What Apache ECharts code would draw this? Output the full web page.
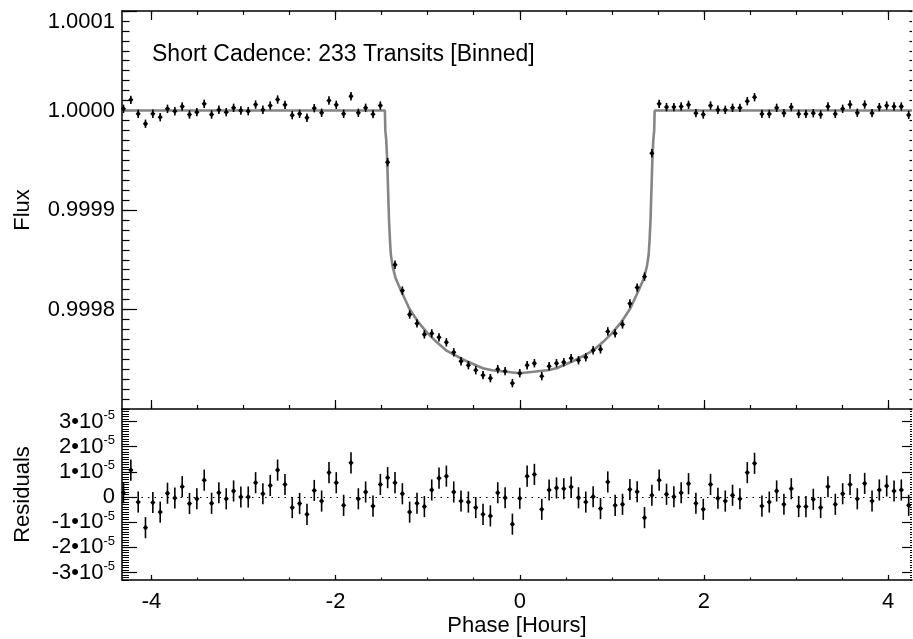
<!DOCTYPE html>
<html><head><meta charset="utf-8">
<script src="https://cdn.jsdelivr.net/npm/echarts@6/dist/echarts.min.js"></script>
<style>html,body{margin:0;padding:0;background:#fff}#c{width:913px;height:639px}</style>
</head><body><div id="c"></div>
<script>
// ---- data ----
const phase = [-4.304,-4.224,-4.144,-4.065,-3.985,-3.905,-3.826,-3.746,-3.666,-3.587,-3.507,-3.427,-3.347,-3.268,-3.188,-3.108,-3.029,-2.949,-2.869,-2.790,-2.710,-2.630,-2.550,-2.471,-2.391,-2.311,-2.232,-2.152,-2.072,-1.993,-1.913,-1.833,-1.753,-1.674,-1.594,-1.514,-1.435,-1.355,-1.275,-1.196,-1.116,-1.036,-0.956,-0.877,-0.797,-0.717,-0.638,-0.558,-0.478,-0.399,-0.319,-0.239,-0.159,-0.080,0.000,0.080,0.159,0.239,0.319,0.399,0.478,0.558,0.638,0.717,0.797,0.877,0.956,1.036,1.116,1.196,1.275,1.355,1.435,1.514,1.594,1.674,1.753,1.833,1.913,1.993,2.072,2.152,2.232,2.311,2.391,2.471,2.550,2.630,2.710,2.790,2.869,2.949,3.029,3.108,3.188,3.268,3.347,3.427,3.507,3.587,3.666,3.746,3.826,3.905,3.985,4.065,4.144,4.224];

const flux = [1.0000017,1.0000107,0.9999967,0.9999867,0.9999967,0.9999933,1.0000017,0.9999993,1.0000040,0.9999960,0.9999983,1.0000067,0.9999960,1.0000007,0.9999983,1.0000027,1.0000000,0.9999993,1.0000060,1.0000007,1.0000050,1.0000110,1.0000057,0.9999953,0.9999967,0.9999927,1.0000023,0.9999977,1.0000100,1.0000057,0.9999967,1.0000143,0.9999977,1.0000027,0.9999963,1.0000050,
0.999948,0.999845,0.999819,0.999795,0.999786,0.999775,0.999776,0.999772,0.999767,0.999757,0.999748,0.999744,0.999739,0.999734,0.999731,0.999740,0.999738,0.999726,0.999736,0.999744,0.999746,0.999733,0.999743,0.999746,0.999747,0.999751,0.999749,0.999752,0.999759,0.999760,0.999778,0.999776,0.999785,0.999806,0.999822,0.999833,0.999957,
1.0000067,1.0000034,1.0000034,1.0000040,1.0000057,0.9999973,0.9999960,1.0000050,1.0000007,1.0000007,1.0000027,1.0000027,1.0000094,1.0000134,0.9999966,0.9999966,1.0000027,0.9999973,1.0000034,0.9999966,0.9999966,0.9999973,0.9999960,1.0000040,0.9999966,1.0000017,1.0000060,0.9999977,1.0000060,0.9999973,1.0000034,1.0000050,1.0000040,1.0000040,0.9999956];

const residual = [1.7e-6,10.7e-6,-2.0e-6,-12.2e-6,-2.2e-6,-6.0e-6,1.5e-6,-0.4e-6,4.1e-6,-2.6e-6,-0.7e-6,6.7e-6,-2.5e-6,1.7e-6,-0.7e-6,2.4e-6,0,0,5.7e-6,1.3e-6,4.6e-6,10.7e-6,5.0e-6,-4.2e-6,-2.6e-6,-6.9e-6,2.6e-6,-1.6e-6,9.7e-6,5.7e-6,-3.3e-6,13.6e-6,-0.7e-6,2.0e-6,-3.6e-6,5.0e-6,7.7e-6,5.7e-6,1.3e-6,-6.0e-6,-2.5e-6,-3.8e-6,2.8e-6,7.5e-6,8.3e-6,2.0e-6,
-1.6e-6,-2.0e-6,-4.2e-6,-6.9e-6,-7.5e-6,1.7e-6,-0.3e-6,-10.8e-6,-0.5e-6,8.3e-6,9.0e-6,-4.9e-6,2.8e-6,3.6e-6,3.3e-6,4.0e-6,-0.3e-6,-2.0e-6,0.1e-6,-4.6e-6,6.0e-6,-3.3e-6,-2.9e-6,3.0e-6,2.1e-6,-8.2e-6,0.7e-6,6.7e-6,1.1e-6,0.1e-6,1.7e-6,5.3e-6,-2.5e-6,-4.9e-6,5.0e-6,-0.5e-6,-1.6e-6,0.7e-6,-0.7e-6,9.7e-6,13.4e-6,-3.6e-6,-2.0e-6,2.4e-6,-2.9e-6,3.3e-6,-3.8e-6,-3.8e-6,-0.9e-6,-4.2e-6,4.1e-6,-2.9e-6,1.3e-6,5.0e-6,-0.7e-6,5.4e-6,-1.6e-6,2.8e-6,4.4e-6,2.4e-6,2.8e-6,-3.3e-6];

const fluxErr = 4.2e-6;

const modelPhase = [-4.32,-1.465,-1.46,-1.45,-1.44,-1.43,-1.42,-1.41,-1.40,-1.38,-1.35,-1.30,-1.25,-1.20,-1.10,-1.00,-0.90,-0.80,-0.70,-0.60,-0.50,-0.40,-0.30,-0.20,-0.10,0.00,0.10,0.20,0.30,0.40,0.50,0.60,0.70,0.80,0.90,1.00,1.10,1.20,1.25,1.30,1.35,1.38,1.40,1.41,1.42,1.43,1.44,1.45,1.46,1.465,4.26];
const modelFlux = [1.0,1.0,0.99998,0.99997,0.99995,0.99992,0.99989,0.99987,0.999855,0.999843,0.999832,0.999821,0.999811,0.999801,0.999787,0.999776,0.999767,0.999759,0.999754,0.999749,0.999745,0.999741,0.999739,0.999738,0.999737,0.999736,0.999737,0.999738,0.999739,0.999741,0.999745,0.999749,0.999754,0.999759,0.999767,0.999776,0.999787,0.999801,0.999811,0.999821,0.999832,0.999843,0.999855,0.99987,0.99989,0.99992,0.99995,0.99997,0.99998,1.0,1.0];

const xMajorTicks = [-4,-2,0,2,4];
const xMinorTicks = [-4,-3.5,-3,-2.5,-2,-1.5,-1,-0.5,0,0.5,1,1.5,2,2.5,3,3.5,4];
const residualTicks = [-3e-5,-2e-5,-1e-5,0,1e-5,2e-5,3e-5];
const annotation = 'Short Cadence: 233 Transits [Binned]';
const xTitle = 'Phase [Hours]';
const fluxTitle = 'Flux';
const residTitle = 'Residuals';

// ---- chart ----
const FONT = "'Liberation Sans', Arial, Helvetica, sans-serif";
const X_MIN = -4.32, X_MAX = 4.26;
const F_MIN = 0.9997, F_MAX = 1.0001;
const R_MIN = -3.3e-5, R_MAX = 3.5e-5;
const GRID_W = 790;
const chart = echarts.init(document.getElementById('c'), null, {renderer: 'canvas'});

const TOP = () => ({left: 122, right: 1, top: 11, height: 398});
const BOT = () => ({left: 122, right: 1, top: 409, height: 171});
const tickStyle = {color: '#000', width: 1.2};
const lineStyle = {color: '#000', width: 1.5};

function xAx(grid, pos, vals, len, line, extra) {
  return Object.assign({
    type: 'value', gridIndex: grid, position: pos, min: X_MIN, max: X_MAX,
    axisLine: {show: line, onZero: false, lineStyle: lineStyle},
    axisTick: vals ? {show: true, inside: true, length: len, customValues: vals, lineStyle: tickStyle} : {show: false},
    axisLabel: {show: false},
    splitLine: {show: false}
  }, extra || {});
}
function yAx(grid, pos, min, max, opt) {
  return Object.assign({
    type: 'value', gridIndex: grid, position: pos, min: min, max: max,
    axisLine: {show: false, onZero: false},
    axisTick: {show: false},
    axisLabel: {show: false},
    splitLine: {show: false}
  }, opt || {});
}

function errRender(params, api) {
  const x = api.value(0), y = api.value(1), e = api.value(2);
  const c = api.coord([x, y]);
  const t = api.coord([x, y + e]);
  const b = api.coord([x, y - e]);
  return {type: 'group', children: [
    {type: 'line', shape: {x1: c[0], y1: t[1], x2: c[0], y2: b[1]}, style: {stroke: '#000', lineWidth: 1.6}},
    {type: 'polygon', shape: {points: [[c[0], c[1] - 2.9], [c[0] + 2.6, c[1]], [c[0], c[1] + 2.9], [c[0] - 2.6, c[1]]]}, style: {fill: '#000'}}
  ]};
}

const option = {
  animation: false,
  backgroundColor: '#fff',
  textStyle: {fontFamily: FONT},
  grid: [TOP(), BOT(), TOP(), TOP(), TOP(), BOT(), BOT(), BOT()],
  xAxis: [
    xAx(0, 'bottom', xMajorTicks, 9, true),
    xAx(1, 'bottom', xMajorTicks, 5, true, {
      axisLabel: {show: true, customValues: xMajorTicks, color: '#000', fontSize: 22, fontFamily: FONT, margin: 11,
        formatter: v => String(v)},
      name: xTitle, nameLocation: 'middle', nameGap: 35,
      nameTextStyle: {color: '#000', fontSize: 22, fontFamily: FONT}
    }),
    xAx(2, 'bottom', xMinorTicks, 4, false),
    xAx(3, 'top', xMajorTicks, 9, true),
    xAx(4, 'top', xMinorTicks, 4, false),
    xAx(5, 'bottom', xMinorTicks, 2.5, false),
    xAx(6, 'bottom', null, 0, false, {show: false}),
    xAx(7, 'bottom', null, 0, false, {show: false})
  ],
  yAxis: [
    yAx(0, 'left', F_MIN, F_MAX, {
      interval: 0.0001,
      axisLine: {show: true, onZero: false, lineStyle: lineStyle},
      axisTick: {show: true, inside: true, length: 15, lineStyle: tickStyle},
      axisLabel: {show: true, showMinLabel: false, color: '#000', fontSize: 22, fontFamily: FONT, margin: 7,
        verticalAlignMaxLabel: 'top', formatter: v => v.toFixed(4)},
      name: fluxTitle, nameLocation: 'middle', nameGap: 88,
      nameTextStyle: {color: '#000', fontSize: 22, fontFamily: FONT}
    }),
    yAx(1, 'left', R_MIN, R_MAX, {
      axisLine: {show: true, onZero: false, lineStyle: lineStyle},
      axisTick: {show: true, inside: true, length: 15, customValues: residualTicks, lineStyle: tickStyle},
      axisLabel: {show: true, customValues: residualTicks, color: '#000', fontSize: 22, fontFamily: FONT, margin: 7,
        formatter: v => {
          const n = Math.round(v / 1e-5);
          return n === 0 ? '{m|0}' : '{m|' + n + '\u202210}{s|-5}';
        },
        rich: {
          m: {fontSize: 22, fontFamily: FONT, color: '#000', lineHeight: 25},
          s: {fontSize: 13, fontFamily: FONT, color: '#000', lineHeight: 14, verticalAlign: 'top'}
        }
      },
      name: residTitle, nameLocation: 'middle', nameGap: 88,
      nameTextStyle: {color: '#000', fontSize: 22, fontFamily: FONT}
    }),
    // flux minor ticks on the left edge (right-positioned axis moved onto the left edge)
    yAx(2, 'right', F_MIN, F_MAX, {
      offset: -GRID_W, interval: 0.00001,
      axisTick: {show: true, inside: false, length: 7.5, lineStyle: tickStyle}
    }),
    // flux minor ticks on the right edge
    yAx(3, 'right', F_MIN, F_MAX, {
      interval: 0.00001,
      axisTick: {show: true, inside: true, length: 2.5, lineStyle: tickStyle}
    }),
    yAx(4, 'left', F_MIN, F_MAX, {show: false}),
    // residual minor ticks on the left edge
    yAx(5, 'right', R_MIN, R_MAX, {
      offset: -GRID_W, interval: 1e-6,
      axisTick: {show: true, inside: false, length: 7, lineStyle: {color: '#000', width: 1}}
    }),
    // residual right majors
    yAx(6, 'right', R_MIN, R_MAX, {
      axisTick: {show: true, inside: true, length: 10, customValues: residualTicks, lineStyle: tickStyle}
    }),
    // residual right minors
    yAx(7, 'right', R_MIN, R_MAX, {
      interval: 1e-6,
      axisTick: {show: true, inside: true, length: 2, lineStyle: {color: '#000', width: 1}}
    })
  ],
  graphic: [{
    type: 'text', left: 152, top: 43,
    style: {text: annotation, font: '23px ' + FONT, fill: '#000'}
  }],
  series: [
    {
      type: 'line', xAxisIndex: 0, yAxisIndex: 0, z: 2,
      data: modelPhase.map((p, i) => [p, modelFlux[i]]),
      showSymbol: false, symbol: 'none',
      lineStyle: {color: '#858585', width: 2.6}
    },
    {
      type: 'custom', xAxisIndex: 0, yAxisIndex: 0, z: 3,
      data: phase.map((p, i) => [p, flux[i], fluxErr]),
      renderItem: errRender
    },
    {
      type: 'custom', xAxisIndex: 1, yAxisIndex: 1, z: 3,
      data: phase.map((p, i) => [p, residual[i], fluxErr]),
      renderItem: errRender,
      markLine: {
        silent: true, symbol: 'none', label: {show: false},
        lineStyle: {color: '#000', width: 1.2, type: [1.5, 5]},
        data: [{yAxis: 0}]
      }
    }
  ]
};
chart.setOption(option);
</script>
</body></html>
